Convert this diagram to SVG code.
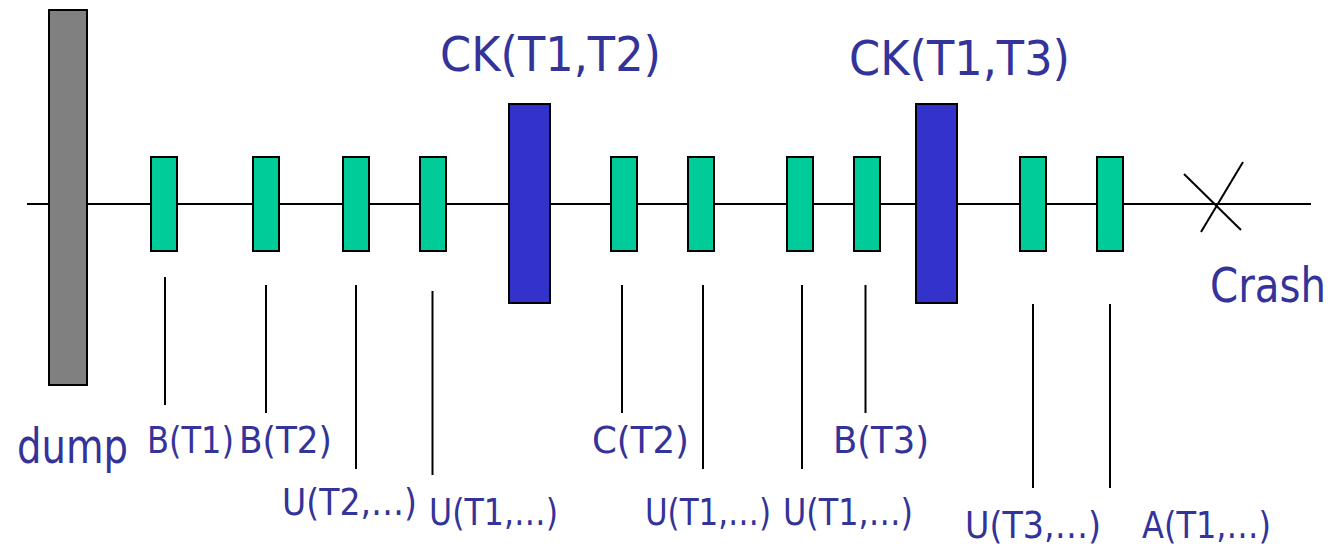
<svg xmlns="http://www.w3.org/2000/svg" width="1340" height="546" viewBox="0 0 1340 546">
<style>
.ev{fill:#00CC99;stroke:#000;stroke-width:2}
.ck{fill:#3333CC;stroke:#000;stroke-width:2}
.dump{fill:#808080;stroke:#000;stroke-width:2}
.ln{stroke:#000;stroke-width:2;fill:none}
.t{font-family:"DejaVu Sans","Liberation Sans",sans-serif;fill:#333399}
.big{font-size:48px}
.sm{font-size:38px}
</style>
<rect width="1340" height="546" fill="#fff"/>
<g id="connectors">
<line class="ln" x1="27" y1="204" x2="1311" y2="204"/>
<line class="ln" x1="1184" y1="174" x2="1241" y2="230"/>
<line class="ln" x1="1243" y1="162" x2="1201" y2="232"/>
<line class="ln" x1="165" y1="277" x2="165" y2="405"/>
<line class="ln" x1="266" y1="285" x2="266" y2="413"/>
<line class="ln" x1="356" y1="285" x2="356" y2="469"/>
<line class="ln" x1="432.5" y1="291" x2="432.5" y2="475"/>
<line class="ln" x1="622" y1="285" x2="622" y2="413"/>
<line class="ln" x1="703" y1="285" x2="703" y2="469"/>
<line class="ln" x1="802" y1="285" x2="802" y2="469"/>
<line class="ln" x1="865.5" y1="285" x2="865.5" y2="413"/>
<line class="ln" x1="1033" y1="304" x2="1033" y2="488"/>
<line class="ln" x1="1110" y1="304" x2="1110" y2="488"/>
</g>
<g id="dump"><rect class="dump" x="49" y="10" width="38" height="375"/>
<text class="t big" transform="translate(17,463) scale(0.8,1)" textLength="138.75" lengthAdjust="spacingAndGlyphs">dump</text></g>
<g id="b-t1"><rect class="ev" x="151" y="157" width="26" height="94"/>
<text class="t sm" transform="translate(147,453) scale(0.845,1)" textLength="102.96" lengthAdjust="spacingAndGlyphs">B(T1)</text></g>
<g id="b-t2"><rect class="ev" x="253" y="157" width="26" height="94"/>
<text class="t sm" transform="translate(239,453) scale(0.9,1)" textLength="103.33" lengthAdjust="spacingAndGlyphs">B(T2)</text></g>
<g id="u-t2"><rect class="ev" x="343" y="157" width="26" height="94"/>
<text class="t sm" transform="translate(282,515) scale(0.87,1)" textLength="155.17" lengthAdjust="spacingAndGlyphs">U(T2,…)</text></g>
<g id="u-t1-a"><rect class="ev" x="420" y="157" width="26" height="94"/>
<text class="t sm" transform="translate(429,525) scale(0.83,1)" textLength="155.42" lengthAdjust="spacingAndGlyphs">U(T1,…)</text></g>
<g id="ck1"><rect class="ck" x="509" y="104" width="41" height="199"/>
<text class="t big" transform="translate(440,71) scale(0.93,1)" textLength="237.63" lengthAdjust="spacingAndGlyphs">CK(T1,T2)</text></g>
<g id="c-t2"><rect class="ev" x="611" y="157" width="26" height="94"/>
<text class="t sm" transform="translate(592,453) scale(0.94,1)" textLength="103.19" lengthAdjust="spacingAndGlyphs">C(T2)</text></g>
<g id="u-t1-b"><rect class="ev" x="688" y="157" width="26" height="94"/>
<text class="t sm" transform="translate(645,525) scale(0.81,1)" textLength="155.56" lengthAdjust="spacingAndGlyphs">U(T1,…)</text></g>
<g id="u-t1-c"><rect class="ev" x="787" y="157" width="26" height="94"/>
<text class="t sm" transform="translate(783,525) scale(0.84,1)" textLength="154.76" lengthAdjust="spacingAndGlyphs">U(T1,…)</text></g>
<g id="b-t3"><rect class="ev" x="854" y="157" width="26" height="94"/>
<text class="t sm" transform="translate(833,453) scale(0.93,1)" textLength="103.23" lengthAdjust="spacingAndGlyphs">B(T3)</text></g>
<g id="ck2"><rect class="ck" x="916" y="104" width="41" height="199"/>
<text class="t big" transform="translate(849,75) scale(0.93,1)" textLength="237.63" lengthAdjust="spacingAndGlyphs">CK(T1,T3)</text></g>
<g id="u-t3"><rect class="ev" x="1020" y="157" width="26" height="94"/>
<text class="t sm" transform="translate(965,538) scale(0.88,1)" textLength="154.55" lengthAdjust="spacingAndGlyphs">U(T3,…)</text></g>
<g id="a-t1"><rect class="ev" x="1097" y="157" width="26" height="94"/>
<text class="t sm" transform="translate(1142,538) scale(0.84,1)" textLength="153.57" lengthAdjust="spacingAndGlyphs">A(T1,…)</text></g>
<g id="crash">
<text class="t big" transform="translate(1210,302) scale(0.84,1)" textLength="138.1" lengthAdjust="spacingAndGlyphs">Crash</text></g>
</svg>
